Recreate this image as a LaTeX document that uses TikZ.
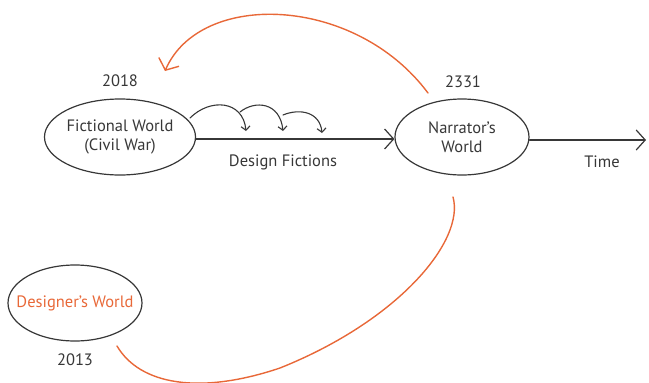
\documentclass[tikz,border=0pt]{standalone}
\usepackage{fontspec}
\setmainfont{PT Sans}
\usetikzlibrary{arrows.meta,shapes.geometric}
\definecolor{rust}{RGB}{232,104,56}
\definecolor{ink}{RGB}{55,55,55}
\begin{document}
\begin{tikzpicture}[x=1pt,y=-1pt,line join=round,line cap=round,
	font=\fontsize{16.5}{19}\selectfont,text=ink,
	world/.style={ellipse,draw=ink,line width=1.2pt,minimum width=134pt,minimum height=76pt,inner sep=0pt,align=center},
	bigtip/.style={-{Straight Barb[length=9pt,width=20pt,line width=1.2pt]}},
	hop/.style={draw=ink,line width=1.1pt,-{Straight Barb[length=4pt,width=9pt,line width=1.1pt]}},
	jump/.style={draw=rust,line width=1.4pt}]
	\useasboundingbox (0,0) rectangle (649,383);
	\path
	(120,137) node[world] (fw) {Fictional World\\(Civil War)}
	(462,137) node[world] (nw) {Narrator’s\\World}
	(75,303) node[world,inner xsep=-12pt,text=rust] (dw) {Designer’s World}
	(120,81) node (y1) {2018}
	(463,82) node (y2) {2331}
	(75,360) node (y3) {2013}
	(283,162) node (df) {Design Fictions}
	(602,162) node (tm) {Time}
	(646,140) coordinate (tend)
	(165,71) coordinate (back)
	(117,346) coordinate (home);
	\draw[draw=ink,line width=1.2pt,bigtip] (fw.east|-0,139) -- (nw.west|-0,139);
	\draw[draw=ink,line width=1.2pt,bigtip] (nw.east|-0,140) -- (tend);
	% small hops along the fictions
	\draw[hop] (190,118) .. controls (210,98) and (243,100) .. (246,131);
	\draw[hop] (240,112) .. controls (255,100) and (280,102) .. (283,131);
	\draw[hop] (283,115) .. controls (300,108) and (320,112) .. (322,133);
	% orange loops
	\draw[jump,-{Straight Barb[length=9pt,width=22pt,line width=1.4pt]}] (428,93) .. controls (355,-5) and (200,-10) .. (back);
	\draw[jump] (453,197) .. controls (465,240) and (400,320) .. (280,368)
		.. controls (200,395) and (140,385) .. (home);
\end{tikzpicture}
\end{document}
